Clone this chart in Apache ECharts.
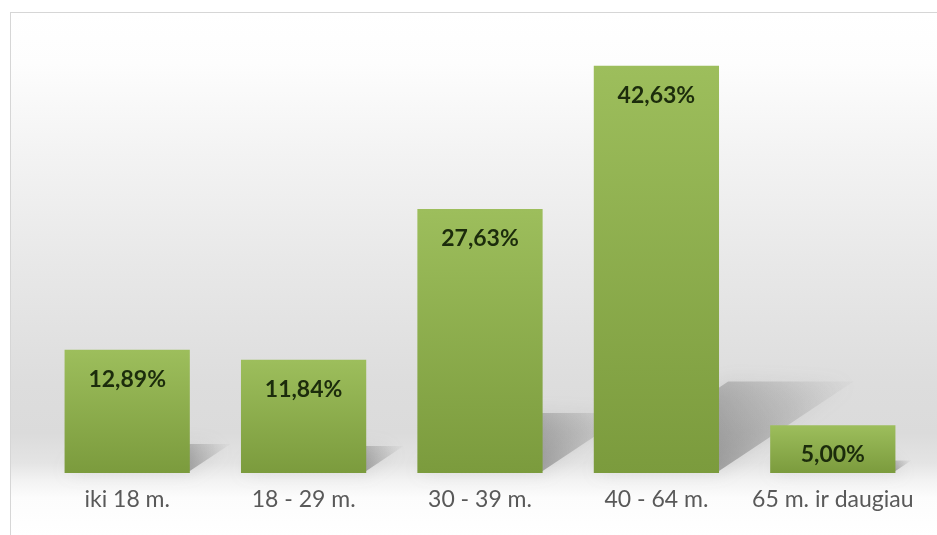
<!DOCTYPE html>
<html>
<head>
<meta charset="utf-8">
<script src="https://cdn.jsdelivr.net/npm/echarts@6/dist/echarts.min.js"></script>
<style>
html,body{margin:0;padding:0;background:#fff;overflow:hidden;}
#wrap{position:relative;width:937px;height:535px;overflow:hidden;}
#frame{position:absolute;left:10px;top:12px;width:940px;height:540px;
 border-left:1px solid #d6d6d6;border-top:1px solid #d6d6d6;
 background:linear-gradient(to bottom,#ffffff 0px,#fdfdfd 50px,#f3f3f3 140px,#e8e8e8 250px,#dddddd 370px,#dbdbdb 420px,#e4e4e4 450px,#f3f3f3 468px,#fcfcfc 485px,#ffffff 523px);}
#chart{position:absolute;left:0;top:0;width:937px;height:535px;}
</style>
</head>
<body>
<div id="wrap"><div id="frame"></div><div id="chart"></div></div>
<script>
const categories = ['iki 18 m.', '18 - 29 m.', '30 - 39 m.', '40 - 64 m.', '65 m. ir daugiau'];
const values = [12.89, 11.84, 27.63, 42.63, 5.00];
const valueLabels = ['12,89%', '11,84%', '27,63%', '42,63%', '5,00%'];

const chart = echarts.init(document.getElementById('chart'), null, {renderer: 'canvas'});
const BAR_FRAC = 0.71;
chart.setOption({
  animation: false,
  grid: {left: 39, right: 16, top: 43, bottom: 62, containLabel: false},
  xAxis: {
    type: 'category',
    data: categories,
    axisLine: {show: false},
    axisTick: {show: false},
    axisLabel: {color: '#595959', fontFamily: 'Lato', fontSize: 23, margin: 15, interval: 0, hideOverlap: false}
  },
  yAxis: {type: 'value', min: 0, max: 45, show: false, splitLine: {show: false}},
  series: [
    {
      type: 'custom',
      z: 1,
      silent: true,
      data: values.map((v, i) => [i, v]),
      renderItem: function (params, api) {
        const top = api.coord([api.value(0), api.value(1)]);
        const base = api.coord([api.value(0), 0]);
        const band = api.size([1, 0])[0];
        const w = band * BAR_FRAC;
        const x0 = base[0] - w / 2, x1 = base[0] + w / 2, y0 = base[1] - 2;
        const h = base[1] - top[1];
        const dx = 0.33 * h, dy = 0.22 * h;
        return {
          type: 'polygon',
          shape: {points: [[x0, y0], [x1, y0], [x1 + dx, y0 - dy], [x0 + dx, y0 - dy]]},
          style: {
            fill: new echarts.graphic.LinearGradient(x1, y0, x1 + dx, y0 - dy, [
              {offset: 0, color: 'rgba(100,100,100,0.5)'},
              {offset: 0.6, color: 'rgba(130,130,130,0.25)'},
              {offset: 1, color: 'rgba(160,160,160,0.05)'}
            ], true),
            shadowBlur: 18,
            shadowColor: 'rgba(110,110,110,0.35)'
          }
        };
      }
    },
    {
      type: 'bar',
      z: 3,
      data: values,
      barWidth: (BAR_FRAC * 100) + '%',
      itemStyle: {
        color: new echarts.graphic.LinearGradient(0, 0, 0, 1, [
          {offset: 0, color: '#9dbe5c'},
          {offset: 1, color: '#7b9b3d'}
        ])
      },
      label: {
        show: true,
        position: 'insideTop',
        distance: 18,
        formatter: p => valueLabels[p.dataIndex],
        color: '#1c2c0c',
        fontFamily: 'Lato',
        fontWeight: 'bold',
        fontSize: 23
      }
    }
  ]
});
</script>
</body>
</html>
